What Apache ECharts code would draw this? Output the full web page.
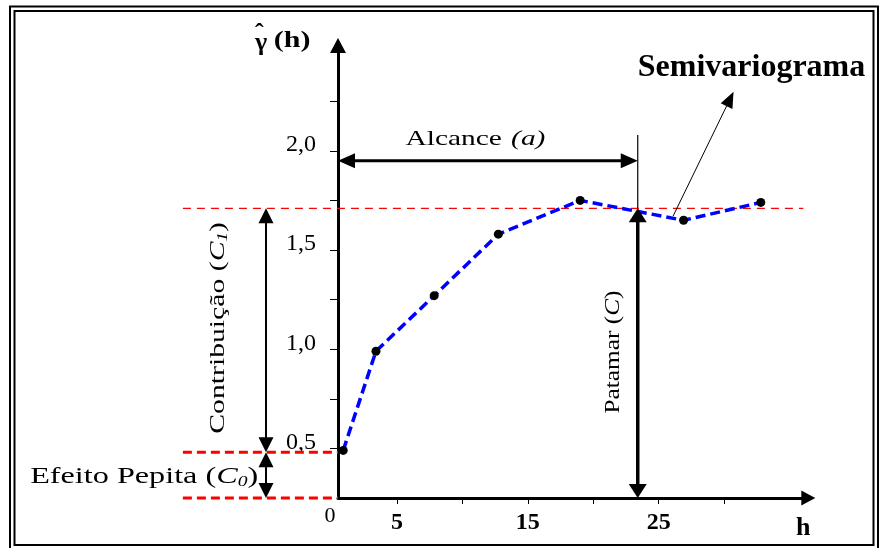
<!DOCTYPE html>
<html><head><meta charset="utf-8">
<script src="https://cdn.jsdelivr.net/npm/echarts@6/dist/echarts.min.js"></script>
<style>html,body{margin:0;padding:0;background:#fff}#c{width:883px;height:548px}</style>
</head><body><div id="c"></div>
<script>
// ---- data ----
const lagH = [0.9, 3.4, 7.85, 12.75, 19.0, 26.9, 32.8];
const semivariance = [0.49, 0.99, 1.27, 1.58, 1.75, 1.65, 1.74];
const xTickValues = [5, 10, 15, 20, 25, 30];
const xLabelValues = [5, 15, 25];
const xLabelTexts = ['5', '15', '25'];
const yTickValues = [0.5, 0.75, 1.0, 1.25, 1.5, 1.75, 2.0, 2.25];
const yLabelValues = [0.5, 1.0, 1.5, 2.0];
const yLabelTexts = ['0,5', '1,0', '1,5', '2,0'];
const nugget = 0.48;   // C0
const sill = 1.71;     // C
const rangeA = 23.4;   // a

const X_MIN = 0.5, X_MAX = 36.43, Y_MIN = 0.25, Y_MAX = 2.531;
const SERIF = '"Liberation Serif", "DejaVu Serif", serif';

const chart = echarts.init(document.getElementById('c'), null, {renderer: 'canvas'});
chart.setOption({
  animation: false,
  backgroundColor: '#fff',
  grid: {left: 338, right: 74.7, top: 45.5, bottom: 50, containLabel: false, outerBoundsMode: 'none'},
  xAxis: {
    type: 'value', min: X_MIN, max: X_MAX,
    axisLine: {show: true, onZero: false, lineStyle: {color: '#000', width: 3},
      symbol: ['none', 'triangle'], symbolSize: [15, 14]},
    axisTick: {show: true, customValues: xTickValues, length: 6, lineStyle: {color: '#000', width: 1}},
    axisLabel: {customValues: xLabelValues, formatter: v => xLabelTexts[xLabelValues.indexOf(v)],
      fontFamily: SERIF, fontWeight: 'bold', fontSize: 24, color: '#000', margin: 13},
    splitLine: {show: false}
  },
  yAxis: {
    type: 'value', min: Y_MIN, max: Y_MAX,
    axisLine: {show: true, onZero: false, lineStyle: {color: '#000', width: 3},
      symbol: ['none', 'triangle'], symbolSize: [16, 15]},
    axisTick: {show: true, customValues: yTickValues, length: 8, lineStyle: {color: '#000', width: 1}},
    axisLabel: {customValues: yLabelValues, formatter: v => yLabelTexts[yLabelValues.indexOf(v)],
      fontFamily: SERIF, fontSize: 24, color: '#000', margin: 22,
      verticalAlign: 'bottom', lineHeight: 12},
    splitLine: {show: false}
  },
  series: [{
    name: 'Semivariograma', type: 'line',
    data: lagH.map((h, i) => [h, semivariance[i]]),
    symbol: 'circle', symbolSize: 9,
    itemStyle: {color: '#000'},
    lineStyle: {color: '#0000ff', width: 3.5, type: [10, 5]},
    z: 5
  }]
});

const P = (x, y) => chart.convertToPixel({gridIndex: 0}, [x, y]);

function head(tip, from, len, w, color) {
  const dx = tip[0] - from[0], dy = tip[1] - from[1];
  const L = Math.hypot(dx, dy), ux = dx / L, uy = dy / L;
  const bx = tip[0] - ux * len, by = tip[1] - uy * len;
  return {type: 'polygon', z: 20, shape: {points: [tip,
    [bx - uy * w / 2, by + ux * w / 2], [bx + uy * w / 2, by - ux * w / 2]]},
    style: {fill: color || '#000'}};
}
function arrow(a, b, opt) {
  const pa = P(a[0], a[1]), pb = P(b[0], b[1]);
  const dx = pb[0] - pa[0], dy = pb[1] - pa[1];
  const L = Math.hypot(dx, dy), ux = dx / L, uy = dy / L;
  const s = opt.both ? [pa[0] + ux * opt.len * 0.8, pa[1] + uy * opt.len * 0.8] : pa;
  const e = [pb[0] - ux * opt.len * 0.8, pb[1] - uy * opt.len * 0.8];
  const out = [{type: 'line', z: 19, shape: {x1: s[0], y1: s[1], x2: e[0], y2: e[1]},
    style: {stroke: '#000', lineWidth: opt.width}}];
  out.push(head(pb, pa, opt.len, opt.w));
  if (opt.both) out.push(head(pa, pb, opt.len, opt.w));
  return out;
}
function dashed(a, b, width, dash) {
  const pa = P(a[0], a[1]), pb = P(b[0], b[1]);
  return {type: 'line', z: 3, shape: {x1: pa[0], y1: pa[1], x2: pb[0], y2: pb[1]},
    style: {stroke: '#ff0000', lineWidth: width, lineDash: dash}};
}
function text(x, y, opt) {
  const p = P(x, y);
  return Object.assign({type: 'text', z: 30, x: p[0], y: p[1]}, opt);
}

const LEFT_END = -11.35, RIGHT_END = 36.05, ARROW_X = -5;
const g = [];
// frame
g.push({type: 'rect', z: 1, shape: {x: 10, y: 6.5, width: 868, height: 545}, style: {fill: null, stroke: '#000', lineWidth: 2}});
g.push({type: 'rect', z: 1, shape: {x: 14.5, y: 11, width: 859, height: 534}, style: {fill: null, stroke: '#000', lineWidth: 2}});
// reference lines
g.push(dashed([LEFT_END, sill], [RIGHT_END, sill], 1.2, [8, 6]));
g.push(dashed([LEFT_END, nugget], [X_MIN, nugget], 3, [9, 5]));
g.push(dashed([LEFT_END, Y_MIN], [X_MIN, Y_MIN], 3, [9, 5]));
// arrows
g.push(...arrow([ARROW_X, nugget], [ARROW_X, sill], {both: true, width: 2, len: 15, w: 15}));
g.push(...arrow([ARROW_X, Y_MIN], [ARROW_X, nugget], {both: true, width: 2, len: 15, w: 15}));
g.push(...arrow([X_MIN, 1.95], [rangeA, 1.95], {both: true, width: 3, len: 17, w: 15}));
g.push(...arrow([rangeA, Y_MIN], [rangeA, sill], {both: true, width: 3.5, len: 14, w: 18}));
g.push(...arrow([26.1, 1.671], [30.72, 2.298], {both: false, width: 1, len: 16, w: 13}));
{
  const a = P(rangeA, 2.08), b = P(rangeA, sill);
  g.push({type: 'line', z: 19, shape: {x1: a[0], y1: a[1], x2: b[0], y2: b[1]}, style: {stroke: '#000', lineWidth: 1.2}});
}
// texts
g.push(text(rangeA, 2.42, {style: {text: 'Semivariograma', font: 'bold 32px ' + SERIF, fill: '#000', align: 'left', verticalAlign: 'middle'}}));
g.push(text(11.0, 1.95, {y: P(11, 1.95)[1] - 21, scaleX: 1.4, style: {
  text: '{n|Alcance}  {i|(a)}', align: 'center', verticalAlign: 'middle', fill: '#000',
  rich: {n: {font: '21px ' + SERIF}, i: {font: 'italic 21px ' + SERIF}}}}));
g.push(text(-8.67, 1.107, {rotation: Math.PI / 2, scaleX: 1.35, style: {
  text: '{n|Contribuição (}{i|C}{s|1}{n|)}', align: 'center', verticalAlign: 'middle', fill: '#000',
  rich: {n: {font: '22px ' + SERIF}, i: {font: 'italic 22px ' + SERIF}, s: {font: 'italic 14px ' + SERIF, verticalAlign: 'bottom', padding: [10, 0, 0, 0]}}}}));
g.push(text(-5.6, 0.356, {scaleX: 1.4, style: {
  text: '{n|Efeito Pepita (}{i|C}{s|0}{n|)}', align: 'right', verticalAlign: 'middle', fill: '#000',
  rich: {n: {font: '23px ' + SERIF}, i: {font: 'italic 23px ' + SERIF}, s: {font: 'italic 14px ' + SERIF, verticalAlign: 'bottom', padding: [10, 0, 0, 0]}}}}));
g.push(text(21.52, 0.986, {rotation: Math.PI / 2, scaleX: 1.15, style: {
  text: '{n|Patamar (}{i|C}{n|)}', align: 'center', verticalAlign: 'middle', fill: '#000',
  rich: {n: {font: '22px ' + SERIF}, i: {font: 'italic 22px ' + SERIF}}}}));
g.push(text(-5.85, 2.553, {y: P(-5.85, 2.553)[1] + 2, style: {text: 'γ', font: 'bold 26px ' + SERIF, fill: '#000', align: 'left', verticalAlign: 'middle'}}));
g.push(text(-5.85, 2.553, {y: P(-5.85, 2.553)[1] - 7, style: {text: 'ˆ', font: 'bold 26px ' + SERIF, fill: '#000', align: 'left', verticalAlign: 'middle'}}));
g.push(text(-4.4, 2.553, {scaleX: 1.25, style: {text: '(h)', font: 'bold 24px ' + SERIF, fill: '#000', align: 'left', verticalAlign: 'middle'}}));
g.push(text(36.05, 0.099, {style: {text: 'h', font: 'bold 26px ' + SERIF, fill: '#000', align: 'center', verticalAlign: 'middle'}}));
g.push(text(-0.11, 0.159, {style: {text: '0', font: '22px ' + SERIF, fill: '#000', align: 'center', verticalAlign: 'middle'}}));

chart.setOption({graphic: g});
</script></body></html>
